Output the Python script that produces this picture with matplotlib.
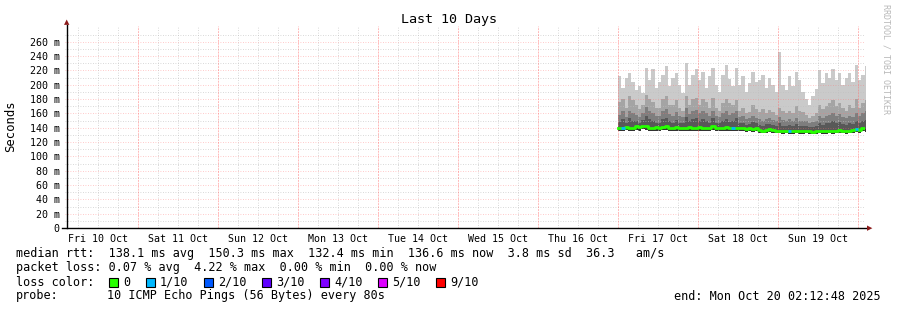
import numpy as np
import matplotlib
matplotlib.use("Agg")
import matplotlib.pyplot as plt
from matplotlib.patches import Rectangle
from matplotlib.lines import Line2D

plt.rcParams['font.family'] = ['DejaVu Sans Mono']

# ---------------- data (hourly, starting Fri 17 Oct 00:00) ----------------
start_day = 7.0          # days after Fri 10 Oct 00:00
median = [139, 140, 141, 139, 140, 142, 141, 143, 142, 140, 139, 141, 140, 141, 142, 140, 139, 141, 140, 139, 140, 141, 139, 140,
          141, 140, 139, 140, 142, 140, 139, 140, 141, 139, 140, 139, 140, 139, 138, 139, 138, 139, 137, 136, 137, 138, 137, 136,
          136, 135, 136, 135, 135, 136, 135, 135, 136, 135, 134, 135, 136, 135, 135, 136, 135, 136, 137, 136, 135, 136, 137, 138,
          137, 139, 138]
ping_min = [135, 136, 137, 135, 136, 137, 136, 138, 137, 136, 135, 136, 136, 137, 137, 136, 135, 136, 136, 135, 136, 136, 135, 136,
            136, 136, 135, 136, 137, 136, 135, 136, 136, 135, 136, 135, 135, 135, 134, 135, 134, 135, 133, 132, 133, 134, 133, 132,
            132, 131, 132, 131, 131, 132, 131, 131, 132, 131, 131, 131, 132, 131, 131, 132, 131, 132, 133, 132, 131, 132, 133, 134,
            133, 135, 134]
p7 = [148, 152, 146, 153, 150, 149, 146, 151, 156, 152, 150, 147, 147, 152, 154, 149, 147, 151, 147, 146, 155, 149, 152, 153,
      150, 152, 149, 147, 153, 147, 146, 150, 152, 148, 150, 153, 146, 147, 144, 145, 148, 146, 144, 143, 145, 145, 144, 143,
      146, 143, 142, 144, 142, 145, 143, 143, 142, 141, 141, 142, 146, 144, 146, 147, 149, 146, 148, 145, 144, 147, 145, 150,
      146, 149, 151]
p8 = [158, 163, 155, 164, 160, 158, 155, 160, 169, 164, 161, 157, 156, 163, 166, 159, 157, 162, 157, 155, 167, 159, 163, 165,
      160, 163, 160, 157, 164, 157, 155, 160, 163, 158, 160, 164, 155, 157, 152, 153, 157, 154, 152, 150, 152, 153, 151, 150,
      155, 151, 149, 152, 150, 153, 150, 150, 149, 147, 148, 150, 156, 153, 156, 158, 160, 156, 159, 155, 153, 157, 155, 161,
      156, 160, 163]
p9 = [176, 180, 168, 184, 178, 172, 166, 172, 186, 180, 176, 168, 168, 180, 184, 172, 172, 178, 168, 164, 184, 172, 180, 182,
      172, 180, 176, 168, 182, 168, 164, 174, 180, 174, 172, 178, 164, 168, 160, 162, 172, 166, 162, 166, 160, 165, 162, 158,
      168, 164, 160, 164, 160, 170, 164, 162, 158, 154, 156, 160, 172, 166, 170, 174, 178, 170, 174, 168, 164, 172, 168, 180,
      168, 174, 178]
ping_max = [212, 196, 210, 216, 204, 192, 198, 188, 224, 206, 222, 196, 204, 214, 226, 198, 210, 216, 200, 188, 230, 200, 214, 222,
            206, 218, 196, 212, 224, 200, 190, 214, 228, 208, 198, 224, 200, 212, 190, 202, 218, 204, 206, 214, 196, 210, 200, 190,
            246, 200, 192, 212, 198, 218, 206, 190, 180, 172, 184, 194, 220, 202, 216, 210, 222, 206, 216, 200, 210, 216, 204, 228,
            206, 214, 226]
loss = [0, 0.1, 0, 0, 0, 0, 0, 0, 0, 0, 0, 0, 0, 0, 0, 0, 0, 0, 0, 0, 0, 0, 0, 0,
        0, 0, 0, 0, 0, 0, 0, 0, 0, 0, 0.1, 0, 0, 0, 0, 0, 0, 0, 0, 0, 0, 0, 0, 0,
        0, 0, 0, 0.1, 0, 0, 0, 0, 0, 0, 0, 0, 0, 0, 0, 0, 0, 0, 0, 0, 0, 0, 0, 0.1,
        0, 0, 0]

day_labels = ["Fri 10 Oct", "Sat 11 Oct", "Sun 12 Oct", "Mon 13 Oct", "Tue 14 Oct",
              "Wed 15 Oct", "Thu 16 Oct", "Fri 17 Oct", "Sat 18 Oct", "Sun 19 Oct"]
y_ticks = [0, 20, 40, 60, 80, 100, 120, 140, 160, 180, 200, 220, 240, 260]
loss_labels = ["0", "1/10", "2/10", "3/10", "4/10", "5/10", "9/10"]
loss_colors = ["#26ff00", "#00b8ff", "#0059ff", "#5e00ff", "#7e00ff", "#dd00ff", "#ff0000"]

title = "Last 10 Days"
line_rtt = "median rtt:  138.1 ms avg  150.3 ms max  132.4 ms min  136.6 ms now  3.8 ms sd  36.3   am/s"
line_loss = "packet loss: 0.07 % avg  4.22 % max  0.00 % min  0.00 % now"
probe_text = "10 ICMP Echo Pings (56 Bytes) every 80s"
end_text = "end: Mon Oct 20 02:12:48 2025"

# ---------------- figure ----------------
W, H = 897, 310
fig = plt.figure(figsize=(W / 100, H / 100), dpi=100)
fig.patch.set_facecolor("white")

def fx(px):
    return px / W

def fy(py):
    return 1 - py / H

x0_px, x1_px = 65.4, 865.4
y0_px, y1_px = 228, 26
ax = fig.add_axes([fx(x0_px), fy(y0_px), (x1_px - x0_px) / W, (y0_px - y1_px) / H])
xmin = 0.0922
xmax = xmin + 10
ymax = 282
ax.set_xlim(xmin, xmax)
ax.set_ylim(0, ymax)
for s in ax.spines.values():
    s.set_visible(False)

n = len(median)
t = start_day + np.arange(n + 1) / 24.0

def ext(a):
    a = np.asarray(a, dtype=float)
    return np.append(a, a[-1])

# smoke bands
bands = [(ping_min, ping_max, "#cacaca"), (ping_min, p9, "#a4a4a4"),
         (ping_min, p8, "#7e7e7e"), (ping_min, p7, "#585858"),
         (ping_min, median, "#323232")]
for lo, hi, c in bands:
    ax.fill_between(t, ext(lo), ext(hi), step="post", color=c, lw=0, zorder=1)

# grid (drawn over smoke)
minor_c = (0.75, 0.75, 0.75, 0.8)
major_c = (1.0, 0.45, 0.45, 0.5)
for v in range(10, ymax, 20):
    ax.axhline(v, color=minor_c, lw=0.6, ls=(0, (1, 2)), zorder=2)
for v in y_ticks[1:]:
    ax.axhline(v, color=major_c, lw=0.6, ls=(0, (1, 2)), zorder=2)
for d in range(0, 11):
    for q in (0.25, 0.5, 0.75):
        xv = d + q
        if xmin < xv < xmax:
            ax.axvline(xv, color=minor_c, lw=0.6, ls=(0, (1, 2)), zorder=2)
for d in range(1, 11):
    ax.axvline(d, color=major_c, lw=0.7, ls=(0, (2, 1)), zorder=2)

# median line with loss colours
ax.step(t, ext(median), where="post", color=loss_colors[0], lw=2.0, zorder=4)
for i, l in enumerate(loss):
    if l > 0:
        k = min(int(round(l * 10)), 6)
        ax.plot([t[i], t[i + 1]], [median[i], median[i]], color=loss_colors[k],
                lw=2.0, solid_capstyle="butt", zorder=5)

# ticks
ax.set_yticks(y_ticks)
ax.set_yticklabels(["0" if v == 0 else f"{v} m" for v in y_ticks])
ax.set_xticks([d + 0.5 for d in range(10)])
ax.set_xticklabels(day_labels)
ax.tick_params(axis="both", length=0, labelsize=7.2, colors="black")
ax.tick_params(axis="y", pad=4)
ax.tick_params(axis="x", pad=4)

# axis lines with arrows
fig.add_artist(Line2D([fx(67), fx(67)], [fy(228), fy(25)], color="black", lw=1.0))
fig.add_artist(Line2D([fx(62), fx(868)], [fy(228), fy(228)], color="black", lw=1.0))
fig.text(fx(67), fy(22), "\u25B2", color="#8b1a1a", fontsize=5, ha="center", va="center",
         family="DejaVu Sans")
fig.text(fx(870), fy(228), "\u25B6", color="#8b1a1a", fontsize=5, ha="center", va="center",
         family="DejaVu Sans")

# texts
fig.text(0.5, fy(19), title, ha="center", va="center", fontsize=9.6)
fig.text(fx(11), fy(126), "Seconds", rotation=90, ha="center", va="center", fontsize=8.8)
fig.text(fx(886), fy(4), "RRDTOOL / TOBI OETIKER", rotation=270, ha="center", va="top",
         fontsize=6.0, color="#b8b8b8")

lfs = 8.5
fig.text(fx(16), fy(254), line_rtt, ha="left", va="center", fontsize=lfs)
fig.text(fx(16), fy(268), line_loss, ha="left", va="center", fontsize=lfs)
fig.text(fx(16), fy(282), "loss color:", ha="left", va="center", fontsize=lfs)
sq_x = [109, 146, 204, 262, 320, 378, 436]
for xs, lab, c in zip(sq_x, loss_labels, loss_colors):
    fig.add_artist(Rectangle((fx(xs), fy(286.5)), 9 / W, 9 / H, facecolor=c,
                             edgecolor="black", lw=0.8, transform=fig.transFigure))
    fig.text(fx(xs + 14), fy(282), lab, ha="left", va="center", fontsize=lfs)
fig.text(fx(16), fy(296), "probe:", ha="left", va="center", fontsize=lfs)
fig.text(fx(107), fy(296), probe_text, ha="left", va="center", fontsize=lfs)
fig.text(fx(881), fy(296), end_text, ha="right", va="center", fontsize=lfs)

fig.savefig("out.png", dpi=100, facecolor="white")
